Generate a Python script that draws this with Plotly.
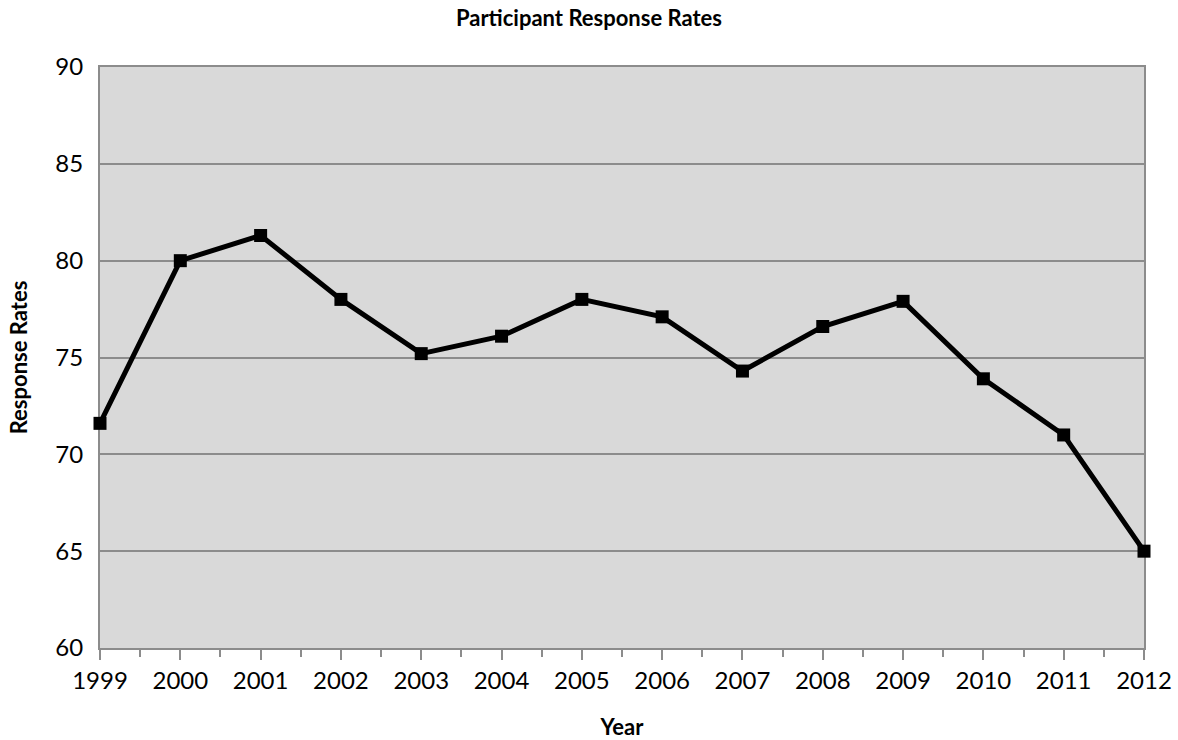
import plotly.graph_objects as go

years = [1999, 2000, 2001, 2002, 2003, 2004, 2005, 2006, 2007, 2008, 2009, 2010, 2011, 2012]
rates = [71.6, 80.0, 81.3, 78.0, 75.2, 76.1, 78.0, 77.1, 74.3, 76.6, 77.9, 73.9, 71.0, 65.0]
y_ticks = [60, 65, 70, 75, 80, 85, 90]

fig = go.Figure()
fig.add_trace(go.Scatter(
    x=years, y=rates, mode="lines+markers",
    line=dict(color="#000000", width=5),
    marker=dict(symbol="square", size=13, color="#000000"),
    cliponaxis=False,
))

font_family = "Lato, 'DejaVu Sans', sans-serif"
fig.update_layout(
    width=1178, height=740,
    margin=dict(l=100, r=34, t=67, b=92),
    paper_bgcolor="white",
    plot_bgcolor="#d9d9d9",
    showlegend=False,
    font=dict(family=font_family, color="#000000"),
    title=dict(text="<b>Participant Response Rates</b>", x=0.5, xanchor="center",
               y=1 - 18 / 740, yanchor="middle", font=dict(size=22, family=font_family)),
)
fig.update_xaxes(
    range=[1999, 2012], tickmode="array", tickvals=years, ticktext=[str(y) for y in years],
    showgrid=False, zeroline=False, layer="below traces", automargin=False,
    showline=True, linecolor="#8c8c8c", linewidth=2, mirror=True,
    ticks="outside", ticklen=10, tickwidth=2, tickcolor="#8c8c8c",
    minor=dict(dtick=0.5, tick0=1999.5, ticks="outside", ticklen=7, tickwidth=2, tickcolor="#8c8c8c", showgrid=False),
    tickfont=dict(size=24),
    title=dict(text="<b>Year</b>", font=dict(size=22), standoff=28),
)
fig.update_yaxes(
    range=[60, 90], tickmode="array", tickvals=y_ticks,
    showgrid=True, gridcolor="#8c8c8c", gridwidth=2, zeroline=False, layer="below traces",
    automargin=False,
    showline=True, linecolor="#8c8c8c", linewidth=2, mirror=True,
    ticks="", tickfont=dict(size=24), ticklabelstandoff=10,
    title=dict(text="<b>Response Rates</b>", font=dict(size=22), standoff=22),
)

fig.write_html("out.html")
